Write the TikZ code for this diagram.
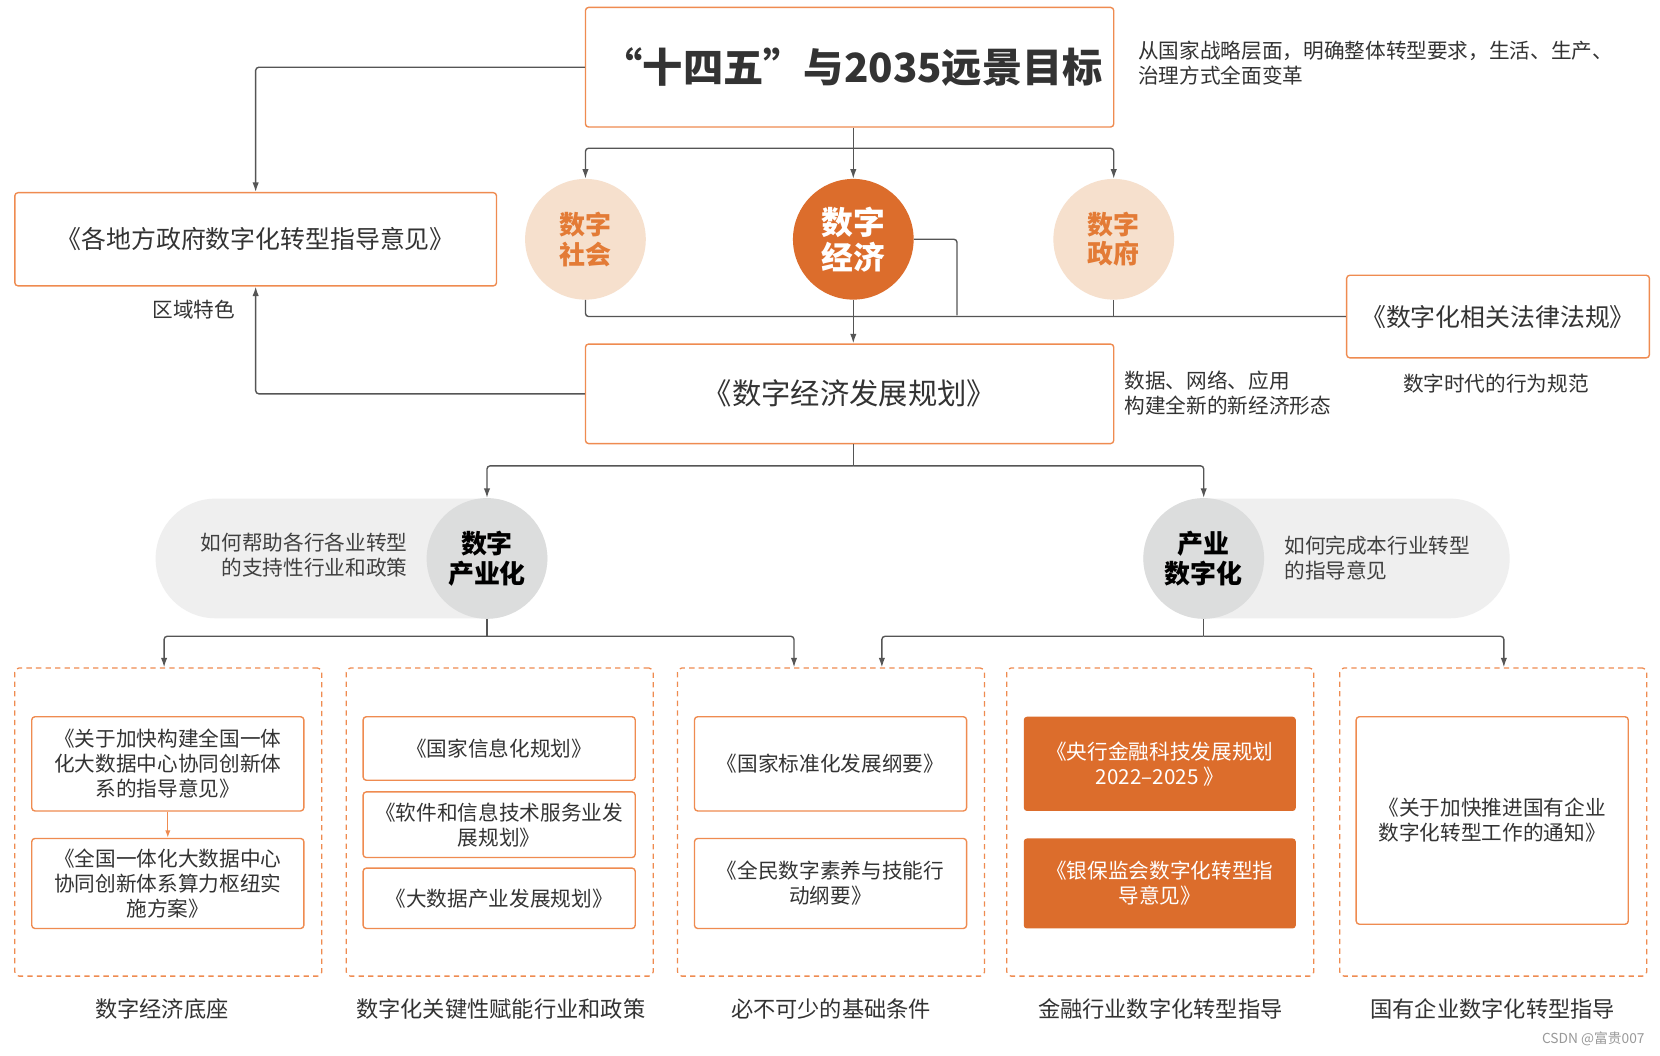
\documentclass[tikz,border=0pt]{standalone}
\usepackage{fontspec}
\setmainfont{Noto Sans CJK SC}
\usetikzlibrary{arrows.meta}
\definecolor{ob}{HTML}{EF8B50}
\definecolor{of}{HTML}{DC6D2C}
\definecolor{pe}{HTML}{F6E0CD}
\definecolor{ln}{HTML}{555555}
\definecolor{tc}{HTML}{333333}
\definecolor{pg}{HTML}{EFEFEF}
\definecolor{cg}{HTML}{DCDDDD}
\definecolor{ot}{HTML}{E37B36}
\begin{document}
\begin{tikzpicture}[x=1pt,y=-1pt,
  box/.style={draw=ob,line width=1.3pt,rounded corners=3pt,fill=white,text=tc,align=center,inner sep=0pt},
  fbox/.style={fill=of,rounded corners=3pt,text=white,align=center,inner sep=0pt},
  grp/.style={draw=ob,line width=1.2pt,dash pattern=on 5pt off 4pt,rounded corners=4pt,inner sep=0pt,minimum width=290pt,minimum height=291pt},
  conn/.style={draw=ln,line width=1.3pt,rounded corners=3pt},
  arr/.style={conn,-{Latex[length=9pt,width=6pt]}},
  note/.style={text=tc,inner sep=0pt,font=\fontsize{19.5}{23.5}\selectfont},
  small/.style={font=\fontsize{19.5}{23.5}\selectfont},
  lbl/.style={text=tc,inner sep=0pt,font=\fontsize{21}{25}\selectfont},
  inner/.style={box,small,minimum width=257pt},
  circ/.style={circle,minimum size=114pt,inner sep=0pt,align=center,font=\bfseries\fontsize{24.5}{28}\selectfont}
]
\useasboundingbox (0,0) rectangle (1568,997);
\fill[white] (0,0) rectangle (1568,997);

% top level
\node[box,minimum width=499pt,minimum height=113pt,font=\bfseries\fontsize{38}{44}\selectfont] (top) at (802.5,63.5) {\hspace*{6pt}“十四五”与2035远景目标};
\node[note,anchor=west,align=left] (topnote) at (1075,59.5) {从国家战略层面，明确整体转型要求，生活、生产、\\治理方式全面变革};

\node[box,minimum width=455pt,minimum height=88pt,font=\fontsize{23.5}{28}\selectfont] (local) at (241.5,226) {《各地方政府数字化转型指导意见》};

\node[circ,fill=pe,text=ot] (soc) at (553,226) {数字\\社会};
\node[circ,fill=of,text=white,font=\bfseries\fontsize{30}{33}\selectfont] (ec) at (806,226) {数字\\经济};
\node[circ,fill=pe,text=ot] (gov) at (1052,226) {数字\\政府};

\node[box,minimum width=286pt,minimum height=78pt,font=\fontsize{23.5}{28}\selectfont] (law) at (1415,299) {《数字化相关法律法规》};
\node[note] (lawnote) at (1413,362) {数字时代的行为规范};

\node[box,minimum width=499pt,minimum height=94pt,font=\fontsize{27.7}{32}\selectfont] (plan) at (802.5,372) {《数字经济发展规划》};
\node[note,anchor=west,align=left] (plannote) at (1062,371.5) {数据、网络、应用\\构建全新的新经济形态};
\node[note] (region) at (183,292) {区域特色};

% pills
\node[fill=pg,rounded corners=56.5pt,minimum width=370pt,minimum height=113pt,inner sep=0pt] (pillL) at (332,527.5) {};
\node[circ,fill=cg,text=black] (ci) at (460,527.5) {数字\\产业化};
\node[note,anchor=east,align=right,text=black!75] (pillLtext) at (385,524.5) {如何帮助各行各业转型\\的支持性行业和政策};
\node[fill=pg,rounded corners=56.5pt,minimum width=346pt,minimum height=113pt,inner sep=0pt] (pillR) at (1253,527.5) {};
\node[circ,fill=cg,text=black] (cd) at (1137,527.5) {产业\\数字化};
\node[note,anchor=west,align=left,text=black!75] (pillRtext) at (1213,527.5) {如何完成本行业转型\\的指导意见};

% groups
\node[grp] (g1) at (159,776.5) {};
\node[grp] (g2) at (472,776.5) {};
\node[grp] (g3) at (785,776.5) {};
\node[grp] (g4) at (1096,776.5) {};
\node[grp] (g5) at (1410.5,776.5) {};
\node[lbl] (l1) at (153,953) {数字经济底座};
\node[lbl] (l2) at (473,953) {数字化关键性赋能行业和政策};
\node[lbl] (l3) at (785,953) {必不可少的基础条件};
\node[lbl] (l4) at (1096,953) {金融行业数字化转型指导};
\node[lbl] (l5) at (1410,953) {国有企业数字化转型指导};

\node[inner,minimum height=89pt] (a1) at (158.5,721.5) {《关于加快构建全国一体\\化大数据中心协同创新体\\系的指导意见》};
\node[inner,minimum height=85pt] (a2) at (158.5,834.5) {《全国一体化大数据中心\\协同创新体系算力枢纽实\\施方案》};
\node[inner,minimum height=60pt] (b1) at (471.5,707) {《国家信息化规划》};
\node[inner,minimum height=62pt] (b2) at (471.5,779) {《软件和信息技术服务业发\\展规划》};
\node[inner,minimum height=57pt] (b3) at (471.5,848.5) {《大数据产业发展规划》};
\node[inner,minimum height=89pt] (d1) at (784.5,721.5) {《国家标准化发展纲要》};
\node[inner,minimum height=85pt] (d2) at (784.5,834.5) {《全民数字素养与技能行\\动纲要》};
\node[fbox,small,minimum width=257pt,minimum height=89pt] (e1) at (1095.5,721.5) {《央行金融科技发展规划\\2022–2025 》};
\node[fbox,small,minimum width=257pt,minimum height=85pt] (e2) at (1095.5,834.5) {《银保监会数字化转型指\\导意见》};
\node[inner,minimum height=196pt] (f1) at (1409.5,775) {《关于加快推进国有企业\\数字化转型工作的通知》};

\node[text=black!40,inner sep=0pt,font=\fontsize{13}{15}\selectfont] (wm) at (1505,981) {CSDN @富贵007};

% connectors
\coordinate (j1) at (806,140);
\coordinate (j2) at (904,298);
\coordinate (j3) at (806,440);
\coordinate (j4) at (460,601);
\coordinate (j5) at (1137,601);

\draw[arr] (top.west) -| (local.north);
\draw[conn] (top.south -| j1) -- (j1);
\draw[arr] (j1) -| (soc.north);
\draw[arr] (j1) -| (gov.north);
\draw[arr] (j1) -- (ec.north);
\draw[conn] (soc.south) |- (law.west);
\draw[conn] (gov.south) -- (gov.south |- law.west);
\draw[conn] (ec.east) -| (j2);
\draw[arr] (ec.south) -- (ec.south |- plan.north);
\draw[arr] (plan.west) -| (local.south);
\draw[conn] (plan.south -| j3) -- (j3);
\draw[arr] (j3) -| (ci.north);
\draw[arr] (j3) -| (cd.north);
\draw[conn] (ci.south) -- (j4);
\draw[arr] (j4) -| ([xshift=-4pt]g1.north);
\draw[arr] (j4) -| ([xshift=-35pt]g3.north);
\draw[conn] (cd.south) -- (j5);
\draw[arr] (j5) -| ([xshift=48pt]g3.north);
\draw[arr] (j5) -| ([xshift=10pt]g5.north);
\draw[draw=ob,line width=1.3pt,-{Latex[length=7pt,width=5pt]}] (a1) -- (a2);
\end{tikzpicture}
\end{document}
